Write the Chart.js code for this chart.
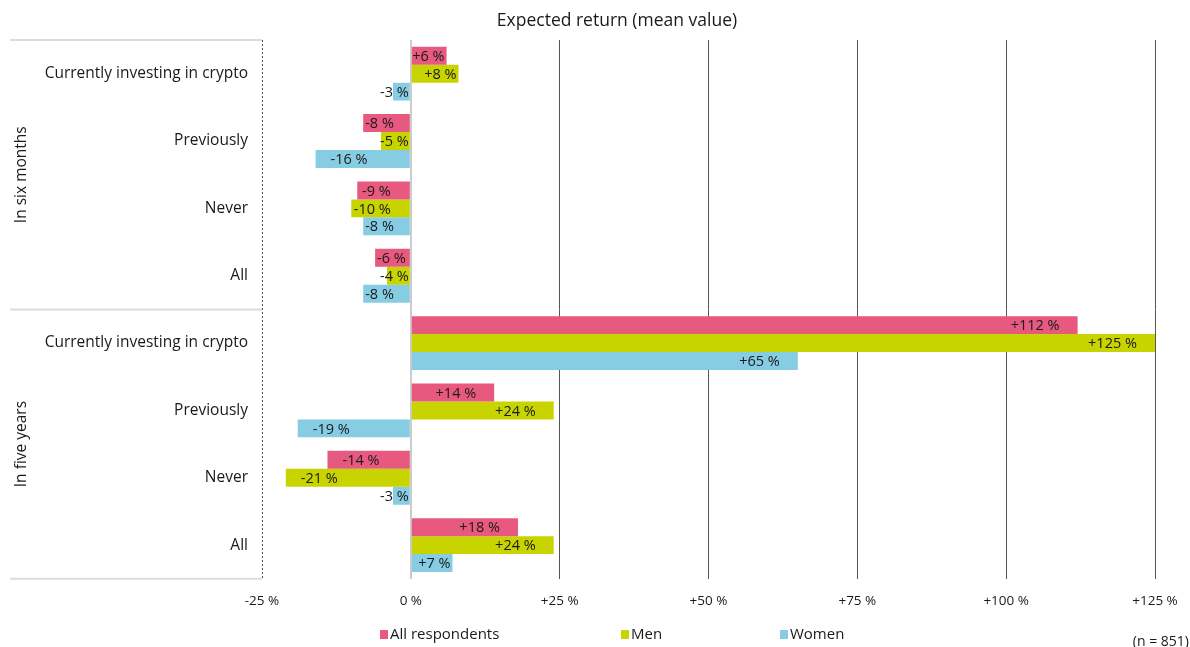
<!DOCTYPE html>
<html>
<head>
<meta charset="utf-8">
<script src="https://cdn.jsdelivr.net/npm/chart.js@4/dist/chart.umd.min.js"></script>
<style>
  html, body { margin: 0; padding: 0; background: #fff; }
  #wrap { width: 1190px; height: 647px; position: relative; }
</style>
</head>
<body>
<div id="wrap"><canvas id="chart"></canvas></div>
<script>
// categories (rows), top to bottom
const categories = [
    "Currently investing in crypto", "Previously", "Never", "All",
    "Currently investing in crypto", "Previously", "Never", "All"
];
const groups = ["In six months", "In five years"];
const seriesNames = ["All respondents", "Men", "Women"];
const seriesColors = ["#e8597f", "#c8d400", "#86cde3"];

// expected return in %, per row
const allRespondents = [6, -8, -9, -6, 112, 14, -14, 18];
const men = [8, -5, -10, -4, 125, 24, -21, 24];
const women = [-3, -16, -8, -8, 65, -19, -3, 7];

const xTicks = [-25, 0, 25, 50, 75, 100, 125];
const titleText = "Expected return (mean value)";
const noteText = "(n = 851)";

const FONT = "'Open Sans', 'DejaVu Sans', sans-serif";

function fmt(v) {
    return (v > 0 ? "+" : "") + v + " %";
}

// bar value labels, group labels, separators, title, legend
const decorPlugin = {
    id: "decor",
    afterDatasetsDraw(chart) {
        const ctx = chart.ctx;
        ctx.save();
        ctx.font = "14.5px " + FONT;
        ctx.fillStyle = "#1a1a1a";
        ctx.textBaseline = "middle";
        ctx.textAlign = "left";
        chart.data.datasets.forEach((ds, di) => {
            const meta = chart.getDatasetMeta(di);
            meta.data.forEach((bar, i) => {
                const v = ds.data[i];
                const txt = fmt(v);
                const w = ctx.measureText(txt).width;
                const end = bar.x;
                const base = bar.base;
                let left;
                if (v >= 0) {
                    let right = end - 18;
                    if (right - w < base + 19) right = Math.min(end - 2, base + 19 + w);
                    left = right - w;
                } else {
                    left = end + 15;
                    if (left + w > base - 18) left = Math.max(end + 2, base - 19 - w);
                    if (left + w > base - 1) left = base - 1 - w;
                }
                ctx.fillText(txt, left, bar.y + 1);
            });
        });
        ctx.restore();
    },
    afterDraw(chart) {
        const ctx = chart.ctx;
        const area = chart.chartArea;
        const y = chart.scales.y;
        ctx.save();

        // separators on the left side
        const mid = (y.getPixelForValue(3) + y.getPixelForValue(4)) / 2;
        ctx.strokeStyle = "#dcdcdc";
        ctx.lineWidth = 2;
        [area.top, mid, area.bottom].forEach(py => {
            ctx.beginPath();
            ctx.moveTo(10, py);
            ctx.lineTo(area.left, py);
            ctx.stroke();
        });

        // group labels, rotated
        ctx.fillStyle = "#1a1a1a";
        ctx.font = "15.5px " + FONT;
        ctx.textAlign = "center";
        ctx.textBaseline = "middle";
        const spans = [[area.top, mid], [mid, area.bottom]];
        groups.forEach((g, gi) => {
            ctx.save();
            ctx.translate(22, (spans[gi][0] + spans[gi][1]) / 2);
            ctx.rotate(-Math.PI / 2);
            ctx.fillText(g, 0, 0);
            ctx.restore();
        });

        // title
        ctx.font = "17.5px " + FONT;
        ctx.fillText(titleText, 617, 21);

        // legend
        ctx.font = "15px " + FONT;
        ctx.textAlign = "left";
        const legendX = [380, 621, 780];
        seriesNames.forEach((name, i) => {
            ctx.fillStyle = seriesColors[i];
            ctx.fillRect(legendX[i], 630, 8, 9);
            ctx.fillStyle = "#1a1a1a";
            ctx.fillText(name, legendX[i] + 10, 635);
        });

        // sample size note
        ctx.font = "14px " + FONT;
        ctx.textAlign = "right";
        ctx.fillText(noteText, 1189, 642);
        ctx.restore();
    }
};

const chart = new Chart(document.getElementById("chart"), {
    type: "bar",
    data: {
        labels: categories,
        datasets: [
            { label: seriesNames[0], data: allRespondents, backgroundColor: seriesColors[0] },
            { label: seriesNames[1], data: men, backgroundColor: seriesColors[1] },
            { label: seriesNames[2], data: women, backgroundColor: seriesColors[2] },
        ],
    },
    options: {
        indexAxis: "y",
        responsive: true,
        maintainAspectRatio: false,
        animation: false,
        layout: { padding: { top: 40, right: 35, bottom: 24, left: 0 } },
        datasets: {
            bar: { categoryPercentage: 0.8, barPercentage: 1.0, borderWidth: 0 },
        },
        scales: {
            x: {
                min: -25,
                max: 125,
                afterBuildTicks: (scale) => {
                    scale.ticks = xTicks.map(v => ({ value: v }));
                },
                afterFit: (scale) => {
                    scale.paddingLeft = 0;
                    scale.paddingRight = 0;
                },
                ticks: {
                    padding: 14,
                    color: "#1a1a1a",
                    font: { family: FONT, size: 13.5 },
                    callback: (v) => fmt(v),
                },
                grid: {
                    drawTicks: false,
                    color: (c) => (c.tick && c.tick.value === 0 ? "#cccccc" : "#555555"),
                    lineWidth: (c) => (c.tick && c.tick.value === 0 ? 2 : 1),
                },
                border: {
                    display: false,
                    dash: (c) => (c.tick && c.tick.value === -25 ? [2, 2] : []),
                },
            },
            y: {
                afterFit: (scale) => { scale.width = 262; },
                ticks: {
                    padding: 14,
                    color: "#1a1a1a",
                    font: { family: FONT, size: 15.5 },
                },
                grid: { display: false, drawTicks: false },
                border: { display: false },
            },
        },
        plugins: {
            legend: { display: false },
            title: { display: false },
            tooltip: { enabled: false },
        },
    },
    plugins: [decorPlugin],
});
</script>
</body>
</html>
